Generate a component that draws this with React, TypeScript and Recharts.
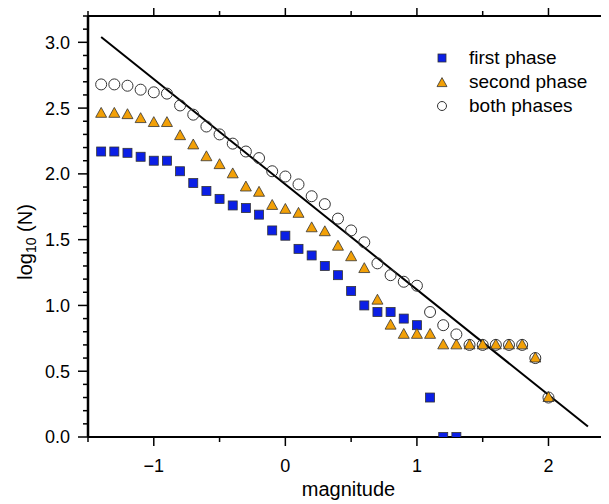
import React from 'react';
import { ScatterChart, Scatter, XAxis, YAxis } from 'recharts';

// magnitude bins
const xValues = [
  -1.4, -1.3, -1.2, -1.1, -1.0, -0.9, -0.8, -0.7, -0.6, -0.5, -0.4, -0.3,
  -0.2, -0.1, 0.0, 0.1, 0.2, 0.3, 0.4, 0.5, 0.6, 0.7, 0.8, 0.9, 1.0, 1.1,
  1.2, 1.3, 1.4, 1.5, 1.6, 1.7, 1.8, 1.9, 2.0,
];

// log10(N) per bin
const firstPhase = [
  2.17, 2.17, 2.16, 2.13, 2.1, 2.1, 2.02, 1.93, 1.87, 1.81, 1.76, 1.74,
  1.69, 1.57, 1.53, 1.43, 1.38, 1.3, 1.23, 1.11, 1.0, 0.95, 0.95, 0.9, 0.85, 0.3,
  0.0, 0.0,
];
const secondPhase = [
  2.46, 2.46, 2.45, 2.42, 2.39, 2.39, 2.29, 2.22, 2.13, 2.07, 2.0, 1.9,
  1.86, 1.76, 1.73, 1.7, 1.59, 1.56, 1.45, 1.37, 1.28, 1.04, 0.85, 0.78, 0.78, 0.78,
  0.7, 0.7, 0.7, 0.7, 0.7, 0.7, 0.7, 0.6, 0.3,
];
const bothPhases = [
  2.68, 2.68, 2.67, 2.64, 2.62, 2.61, 2.52, 2.45, 2.36, 2.3, 2.23, 2.17,
  2.12, 2.02, 1.98, 1.92, 1.83, 1.77, 1.66, 1.57, 1.48, 1.32, 1.23, 1.18, 1.15, 0.95,
  0.85, 0.78, 0.7, 0.7, 0.7, 0.7, 0.7, 0.6, 0.3,
];

// straight fit line end points
const fitX = [-1.4, 2.3];
const fitY = [3.04, 0.08];

const xTicks = [-1.5, -1, -0.5, 0, 0.5, 1, 1.5, 2];
const yTicks = [
  0, 0.1, 0.2, 0.3, 0.4, 0.5, 0.6, 0.7, 0.8, 0.9, 1.0, 1.1, 1.2, 1.3, 1.4, 1.5, 1.6,
  1.7, 1.8, 1.9, 2.0, 2.1, 2.2, 2.3, 2.4, 2.5, 2.6, 2.7, 2.8, 2.9, 3.0, 3.1, 3.2,
];

const seriesNames = ['first phase', 'second phase', 'both phases'];

const zip = (ys: number[]) => ys.map((y, i) => ({ x: xValues[i], y }));
const firstData = zip(firstPhase);
const secondData = zip(secondPhase);
const bothData = zip(bothPhases);
const fitData = fitX.map((x, i) => ({ x, y: fitY[i] }));

const BLUE = '#0b1fe6';
const ORANGE = '#f2a007';
const EDGE = '#333';
const FONT = 'Liberation Sans, Arial, sans-serif';

const SquareMark = ({ cx, cy, s = 9 }: any) => (
  <rect x={cx - s / 2} y={cy - s / 2} width={s} height={s} fill={BLUE} stroke={EDGE} strokeWidth={0.8} />
);
const TriangleMark = ({ cx, cy, s = 11 }: any) => {
  const h = s * 0.9;
  return (
    <polygon
      points={`${cx},${cy - h * 0.6} ${cx - s / 2},${cy + h * 0.4} ${cx + s / 2},${cy + h * 0.4}`}
      fill={ORANGE}
      stroke={EDGE}
      strokeWidth={0.8}
    />
  );
};
const CircleMark = ({ cx, cy, r = 5.5 }: any) => (
  <circle cx={cx} cy={cy} r={r} fill="none" stroke={EDGE} strokeWidth={1} />
);

const fmtX = (v: number) => (v < 0 ? `\u2212${Math.abs(v)}` : `${v}`);

const BottomTick = ({ x, y, payload }: any) => {
  const v = payload.value;
  const major = Number.isInteger(v);
  return (
    <g>
      <line x1={x} x2={x} y1={y} y2={y + (major ? 9 : 5)} stroke="#000" strokeWidth={1.5} />
      {major && (
        <text x={x} y={y + 35} textAnchor="middle" fontSize={18} fill="#000" fontFamily={FONT}>
          {fmtX(v)}
        </text>
      )}
    </g>
  );
};

const TopTick = ({ x, y, payload }: any) => {
  const major = Number.isInteger(payload.value);
  return <line x1={x} x2={x} y1={y} y2={y - (major ? 9 : 5)} stroke="#000" strokeWidth={1.5} />;
};

const LeftTick = ({ x, y, payload }: any) => {
  const v = payload.value;
  const major = Math.round(v * 10) % 5 === 0;
  return (
    <g>
      <line x1={x} x2={x - (major ? 10 : 5)} y1={y} y2={y} stroke="#000" strokeWidth={1.5} />
      {major && (
        <text x={x - 18} y={y} dy="0.36em" textAnchor="end" fontSize={18} fill="#000" fontFamily={FONT}>
          {v.toFixed(1)}
        </text>
      )}
    </g>
  );
};

const LegendBox = () => {
  const symbols = [
    <SquareMark cx={8} cy={12} s={8} />,
    <TriangleMark cx={8} cy={13} s={10} />,
    <CircleMark cx={8} cy={12} r={4.5} />,
  ];
  return (
    <div style={{ position: 'absolute', left: 426, top: 38, fontFamily: FONT, fontSize: 19, color: '#000' }}>
      {seriesNames.map((name, i) => (
        <div key={name} style={{ display: 'flex', alignItems: 'center', height: 24 }}>
          <svg width={16} height={24} style={{ display: 'block' }}>
            {symbols[i]}
          </svg>
          <span style={{ marginLeft: 19, lineHeight: '24px' }}>{name}</span>
        </div>
      ))}
    </div>
  );
};

export default function App() {
  return (
    <div style={{ position: 'relative', width: 601, height: 496, fontFamily: FONT }}>
      <ScatterChart width={601} height={496} margin={{ top: 7, right: 0, bottom: 0, left: 0 }}>
        <XAxis
          xAxisId="bottom"
          type="number"
          dataKey="x"
          domain={[-1.5, 2.46]}
          ticks={xTicks}
          interval={0}
          height={67}
          tickSize={0}
          tickMargin={0}
          tickLine={false}
          tick={<BottomTick />}
          axisLine={{ stroke: '#000', strokeWidth: 2 }}
          allowDataOverflow
        />
        <XAxis
          xAxisId="top"
          orientation="top"
          type="number"
          dataKey="x"
          domain={[-1.5, 2.46]}
          ticks={xTicks}
          interval={0}
          height={1}
          tickSize={0}
          tickMargin={0}
          tickLine={false}
          tick={<TopTick />}
          axisLine={{ stroke: '#000', strokeWidth: 2 }}
          allowDataOverflow
        />
        <YAxis
          yAxisId="left"
          type="number"
          dataKey="y"
          domain={[0, 3.2]}
          ticks={yTicks}
          interval={0}
          width={80}
          tickSize={0}
          tickMargin={0}
          tickLine={false}
          tick={<LeftTick />}
          axisLine={{ stroke: '#000', strokeWidth: 2.5 }}
          allowDataOverflow
        />
        <Scatter
          name="fit"
          data={fitData}
          xAxisId="top"
          yAxisId="left"
          line={{ stroke: '#000', strokeWidth: 2 }}
          shape={() => <g />}
          legendType="none"
          isAnimationActive={false}
        />
        <Scatter name={seriesNames[0]} data={firstData} xAxisId="bottom" yAxisId="left"
          shape={(p: any) => <SquareMark cx={p.cx} cy={p.cy} />} isAnimationActive={false} />
        <Scatter name={seriesNames[1]} data={secondData} xAxisId="bottom" yAxisId="left"
          shape={(p: any) => <TriangleMark cx={p.cx} cy={p.cy} />} isAnimationActive={false} />
        <Scatter name={seriesNames[2]} data={bothData} xAxisId="bottom" yAxisId="left"
          shape={(p: any) => <CircleMark cx={p.cx} cy={p.cy} />} isAnimationActive={false} />
      </ScatterChart>
      <LegendBox />
      <div style={{ position: 'absolute', left: 0, top: 469, width: 601, paddingLeft: 80, boxSizing: 'border-box', textAnchor: 'middle', textAlign: 'center', fontSize: 20, lineHeight: '24px' } as any}>
        magnitude
      </div>
      <div
        style={{
          position: 'absolute',
          left: 17 - 60,
          top: 234 - 12,
          width: 120,
          height: 24,
          lineHeight: '24px',
          textAlign: 'center',
          fontSize: 20,
          transform: 'rotate(-90deg)',
          whiteSpace: 'nowrap',
        }}
      >
        log<sub style={{ fontSize: 14, verticalAlign: '-4px' }}>10</sub> (N)
      </div>
    </div>
  );
}
